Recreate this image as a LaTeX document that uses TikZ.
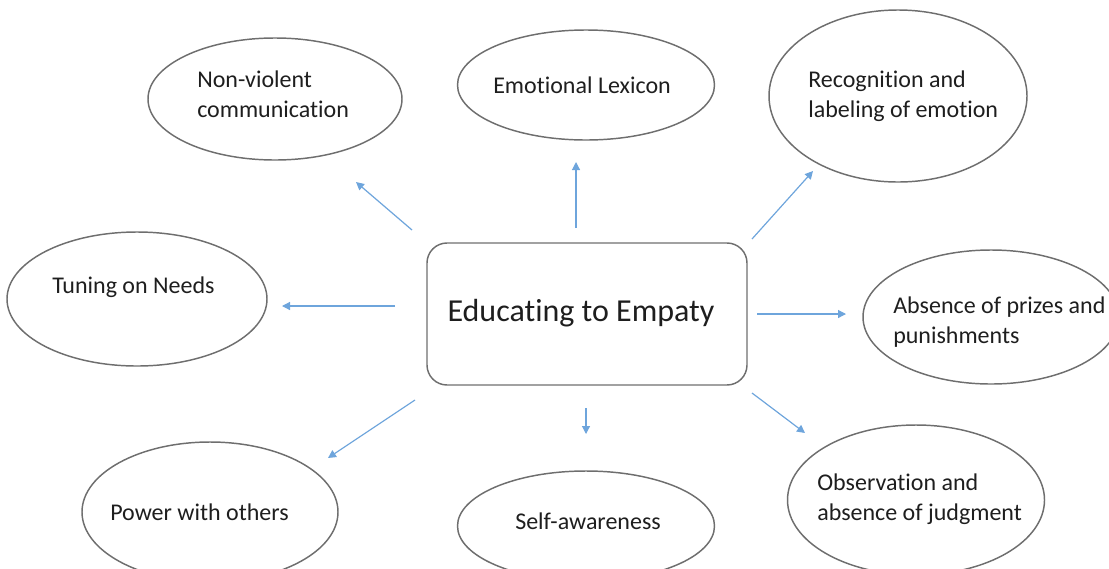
\documentclass[tikz,border=0pt]{standalone}
\usepackage{fontspec}
\setmainfont{Carlito}[Ligatures=NoCommon]
\usetikzlibrary{arrows.meta,shapes.geometric}
\definecolor{outline}{RGB}{110,110,110}
\definecolor{arrowblue}{RGB}{110,165,220}
\definecolor{txt}{RGB}{30,30,30}
\tikzset{
  bubble/.style={ellipse, draw=outline, line width=1.1pt, inner sep=0pt},
  centerbox/.style={draw=outline, line width=1.1pt, rounded corners=15pt, minimum width=240pt, minimum height=106.5pt, inner sep=0pt},
  label/.style={anchor=west, align=left, inner sep=0pt, text=txt, font=\fontsize{18pt}{22.5pt}\selectfont},
  biglabel/.style={inner sep=0pt, text=txt, font=\fontsize{24pt}{29pt}\selectfont},
  link/.style={draw=arrowblue, line width=0.9pt, -{Triangle[length=6pt,width=6pt]}}
}
\begin{document}
\begin{tikzpicture}[x=0.75pt,y=-0.75pt]
\useasboundingbox (0,0) rectangle (1109,568);
\clip (0,0) rectangle (1109,568);
% ellipses
\node[bubble, minimum width=190.5pt, minimum height=91.5pt] (nv) at (275,99) {};
\node[bubble, minimum width=192.75pt, minimum height=82.5pt] (el) at (586,85) {};
\node[bubble, minimum width=193.5pt, minimum height=129pt] (rec) at (898,96) {};
\node[bubble, minimum width=195pt, minimum height=100.5pt] (tun) at (137,299) {};
\node[bubble, minimum width=192pt, minimum height=100.5pt] (abs) at (991,317) {};
\node[bubble, minimum width=192pt, minimum height=105pt] (pow) at (210,512) {};
\node[bubble, minimum width=192.75pt, minimum height=82.5pt] (self) at (586,526) {};
\node[bubble, minimum width=192.75pt, minimum height=112.5pt] (obs) at (916,500) {};
% center box
\node[centerbox] (ctr) at (587,314) {};
\node[biglabel] (ctrt) at (581,313) {Educating to Empaty};
% labels
\node[label] (nvt) at (197,94) {Non-violent\\communication};
\node[label] (elt) at (493,85) {Emotional Lexicon};
\node[label] (rect) at (808,96) {Recognition and\\labeling of emotion};
\node[label] (tunt) at (52,287) {Tuning on Needs};
\node[label] (abst) at (893,322) {Absence of prizes and\\punishments};
\node[label] (powt) at (110,512) {Power with others};
\node[label] (selft) at (515,521) {Self-awareness};
\node[label] (obst) at (817,499) {Observation and\\absence of judgment};
% arrow end points
\coordinate (a1s) at (412,230); \coordinate (a1e) at (356,182);
\coordinate (a2s) at (576,228); \coordinate (a2e) at (576,162);
\coordinate (a3s) at (752,239); \coordinate (a3e) at (813,171);
\coordinate (a4s) at (395,306); \coordinate (a4e) at (282,306);
\coordinate (a5s) at (757,314); \coordinate (a5e) at (846,314);
\coordinate (a6s) at (415,400); \coordinate (a6e) at (328,458);
\coordinate (a7s) at (586,408); \coordinate (a7e) at (586,434);
\coordinate (a8s) at (752,393); \coordinate (a8e) at (805,433);
\draw[link] (a1s) -- (a1e);
\draw[link] (a2s) -- (a2e);
\draw[link] (a3s) -- (a3e);
\draw[link] (a4s) -- (a4e);
\draw[link] (a5s) -- (a5e);
\draw[link] (a6s) -- (a6e);
\draw[link] (a7s) -- (a7e);
\draw[link] (a8s) -- (a8e);
\end{tikzpicture}
\end{document}
